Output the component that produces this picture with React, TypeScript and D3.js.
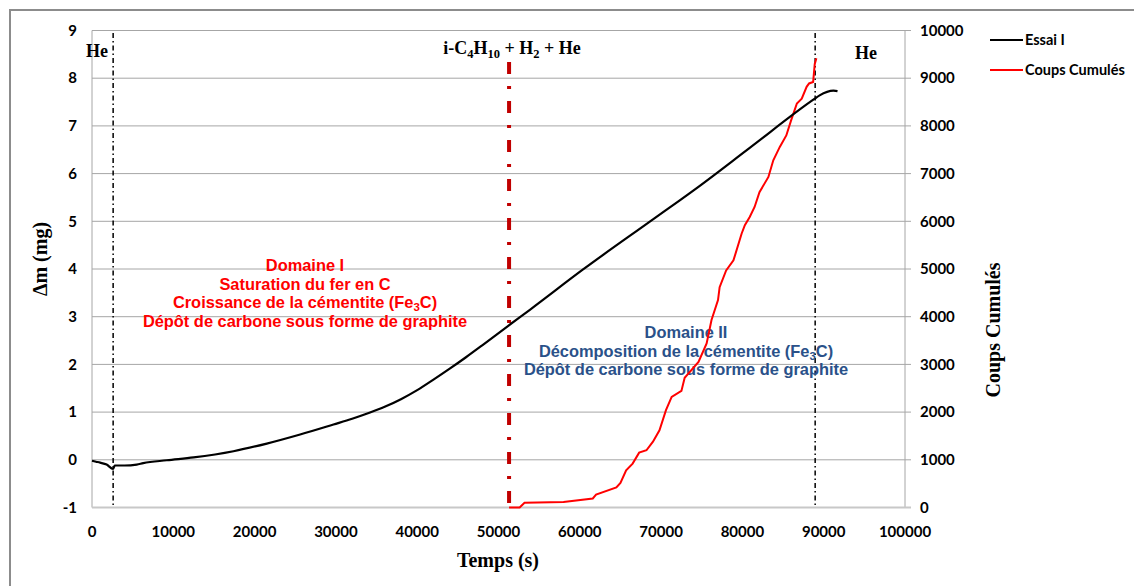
import * as d3 from 'd3';

// Δm (mg) vs temps (s)
const essaiTime = [0, 500, 1000, 1800, 2600, 2800, 4000, 5500, 6300, 9200, 12500, 17400, 21500, 25600, 29700, 32000, 34200, 36000, 38000, 40000, 42000, 44000, 46000, 48000, 51200, 53900, 60400, 69000, 74800, 80900, 88900, 89500, 91200, 91700];
const essaiMass = [-0.02, -0.04, -0.06, -0.1, -0.19, -0.12, -0.12, -0.1, -0.07, -0.01, 0.05, 0.18, 0.34, 0.53, 0.74, 0.86, 0.99, 1.11, 1.27, 1.46, 1.68, 1.91, 2.15, 2.4, 2.81, 3.15, 3.99, 5.04, 5.75, 6.54, 7.57, 7.64, 7.74, 7.73];

// coups cumulés vs temps (s)
const coupsTime = [51300, 52600, 53200, 58000, 61600, 62000, 64500, 65000, 65700, 66500, 67300, 68200, 69000, 69800, 70600, 71300, 72500, 72900, 74600, 75600, 76200, 77000, 77200, 78000, 78900, 79900, 80300, 80900, 81500, 82100, 83200, 83800, 84600, 85400, 86000, 86700, 87300, 87900, 88200, 88700, 88900, 89100];
const coupsValue = [0, 0, 100, 115, 190, 270, 420, 515, 780, 920, 1150, 1200, 1380, 1620, 2040, 2320, 2445, 2720, 3050, 3440, 3930, 4350, 4620, 4970, 5180, 5740, 5920, 6090, 6300, 6610, 6930, 7280, 7560, 7800, 8120, 8470, 8570, 8820, 8890, 8920, 9300, 9420];

const xTicks = [0, 10000, 20000, 30000, 40000, 50000, 60000, 70000, 80000, 90000, 100000];
const yTicks = [-1, 0, 1, 2, 3, 4, 5, 6, 7, 8, 9];
const y2Ticks = [0, 1000, 2000, 3000, 4000, 5000, 6000, 7000, 8000, 9000, 10000];

// gas switches
const heEnd = 2600;
const mixEnd = 88950;
const mixStart = 51300;

const domaineI = ['Domaine I', 'Saturation du fer en C', 'Croissance de la cémentite (Fe|3|C)', 'Dépôt de carbone sous forme de graphite'];
const domaineII = ['Domaine II', 'Décomposition de la cémentite (Fe|3|C)', 'Dépôt de carbone sous forme de graphite'];

const W = 1134;
const H = 586;
const left = 92, right = 905, top = 30.5, bottom = 507.5;

const tickFont = 'Lato, "Open Sans", sans-serif';
const serif = '"Liberation Serif", "Times New Roman", serif';
const arial = '"Liberation Sans", Arial, sans-serif';

function subText(s: string) {
  // "a|3|b" -> a, subscript 3, b
  const parts = s.split('|');
  if (parts.length === 1) return s;
  return (
    <>
      {parts[0]}
      <tspan dy={3} fontSize="0.7em">{parts[1]}</tspan>
      <tspan dy={-3}>{parts[2]}</tspan>
    </>
  );
}

export default function App() {
  const x = d3.scaleLinear().domain([0, 100000]).range([left, right]);
  const y = d3.scaleLinear().domain([-1, 9]).range([bottom, top]);
  const y2 = d3.scaleLinear().domain([0, 10000]).range([bottom, top]);

  const essai = essaiTime.map((t, i) => [t, essaiMass[i]] as [number, number]);
  const coups = coupsTime.map((t, i) => [t, coupsValue[i]] as [number, number]);

  const lineMass = d3.line<[number, number]>().x(d => x(d[0])).y(d => y(d[1])).curve(d3.curveMonotoneX);
  const lineCoups = d3.line<[number, number]>().x(d => x(d[0])).y(d => y2(d[1]));

  return (
    <svg width={W} height={H} style={{ position: 'absolute', left: 0, top: 0, background: '#fff' }}>
      <rect x={10} y={10} width={W} height={H} fill="#fff" stroke="#8c8c8c" strokeWidth={2} />

      {/* gridlines */}
      {yTicks.map(t => (
        <line key={t} x1={left} x2={right} y1={y(t)} y2={y(t)} stroke="#a6a6a6" strokeWidth={1} />
      ))}
      <line x1={left} x2={left} y1={top} y2={bottom} stroke="#a6a6a6" />
      <line x1={right} x2={right} y1={top} y2={bottom} stroke="#a6a6a6" />
      {y2Ticks.map(t => (
        <line key={t} x1={right} x2={right + 6} y1={y2(t)} y2={y2(t)} stroke="#a6a6a6" />
      ))}
      <line x1={left} x2={right + 6} y1={bottom} y2={bottom} stroke="#c8c8c8" strokeWidth={2} />

      {/* tick labels */}
      <g fontFamily={tickFont} fontWeight="bold" fontSize={15} fill="#000">
        {yTicks.map(t => (
          <text key={t} x={77} y={y(t)} dy="0.35em" textAnchor="end">{t}</text>
        ))}
        {xTicks.map(t => (
          <text key={t} x={x(t)} y={537} textAnchor="middle">{t}</text>
        ))}
        {y2Ticks.map(t => (
          <text key={t} x={920} y={y2(t)} dy="0.35em">{t}</text>
        ))}
      </g>

      {/* axis titles */}
      <g fontFamily={serif} fontWeight="bold" fontSize={20} fill="#000">
        <text transform="translate(47,259) rotate(-90)" textAnchor="middle">Δm (mg)</text>
        <text x={498} y={567} textAnchor="middle">Temps (s)</text>
        <text transform="translate(1000,330) rotate(-90)" textAnchor="middle">Coups Cumulés</text>
      </g>

      {/* gas switch markers */}
      <line x1={x(heEnd)} x2={x(heEnd)} y1={33} y2={bottom} stroke="#000" strokeWidth={1.5} strokeDasharray="5,3,1.5,3" />
      <line x1={x(mixEnd)} x2={x(mixEnd)} y1={33} y2={bottom} stroke="#000" strokeWidth={1.5} strokeDasharray="5,3,1.5,3" />
      <line x1={x(mixStart)} x2={x(mixStart)} y1={62} y2={bottom} stroke="#c00000" strokeWidth={4} strokeDasharray="12,12,3,12" />

      <g fontFamily={serif} fontWeight="bold" fontSize={18} fill="#000">
        <text x={97} y={57} textAnchor="middle">He</text>
        <text x={866} y={59} textAnchor="middle">He</text>
        <text x={512} y={54} textAnchor="middle">
          i-C<tspan dy={4} fontSize={12.5}>4</tspan>
          <tspan dy={-4}>H</tspan>
          <tspan dy={4} fontSize={12.5}>10</tspan>
          <tspan dy={-4}> + H</tspan>
          <tspan dy={4} fontSize={12.5}>2</tspan>
          <tspan dy={-4}> + He</tspan>
        </text>
      </g>

      {/* domain annotations */}
      <g fontFamily={arial} fontWeight="bold" fontSize={16.4} fill="#ff0000" textAnchor="middle">
        {domaineI.map((s, i) => (
          <text key={i} x={305} y={271 + i * 18.5}>{subText(s)}</text>
        ))}
      </g>
      <g fontFamily={arial} fontWeight="bold" fontSize={16.4} fill="#2a5189" textAnchor="middle">
        {domaineII.map((s, i) => (
          <text key={i} x={686} y={338 + i * 18.5}>{subText(s)}</text>
        ))}
      </g>

      {/* series */}
      <path d={lineCoups(coups) || ''} fill="none" stroke="#ff0000" strokeWidth={2} />
      <path d={lineMass(essai) || ''} fill="none" stroke="#000" strokeWidth={2.2} />

      {/* legend */}
      <g fontFamily={tickFont} fontWeight="bold" fontSize={14.5} fill="#000">
        <line x1={990} x2={1023} y1={40} y2={40} stroke="#000" strokeWidth={2} />
        <text x={1025} y={40} dy="0.35em">Essai I</text>
        <line x1={990} x2={1023} y1={70} y2={70} stroke="#ff0000" strokeWidth={2} />
        <text x={1025} y={70} dy="0.35em">Coups Cumulés</text>
      </g>
    </svg>
  );
}
